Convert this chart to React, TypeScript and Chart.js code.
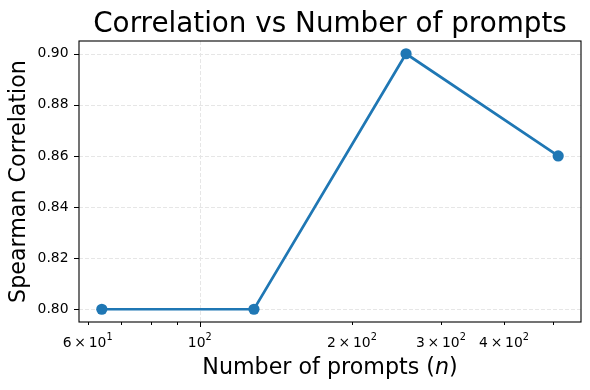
import React, { useEffect, useRef } from "react";
import { Chart, registerables } from "chart.js";

Chart.register(...registerables);

const promptCounts = [64, 128, 256, 512];
const spearman = [0.8, 0.8, 0.9, 0.86];
const yTicks = [0.8, 0.82, 0.84, 0.86, 0.88, 0.9];
const xTicks = [60, 70, 80, 90, 100, 200, 300, 400, 500];
// [mantissa, base, exponent] for labelled x ticks
const xTickLabels: Record<number, [string, string, string]> = {
  60: ["6", "10", "1"],
  100: ["", "10", "2"],
  200: ["2", "10", "2"],
  300: ["3", "10", "2"],
  400: ["4", "10", "2"],
};
const xMajor = [100];

const FONT = "'DejaVu Sans', sans-serif";
const BLUE = "#1f77b4";
const GRID = "#e6e6e6";
const TICK_SIZE = 13.9;

const decorPlugin = {
  id: "decor",
  beforeDatasetsDraw(chart: any) {
    const { ctx, chartArea } = chart;
    const xs = chart.scales.x;
    const ys = chart.scales.y;
    ctx.save();
    ctx.strokeStyle = GRID;
    ctx.lineWidth = 1;
    ctx.setLineDash([4, 2]);
    for (const v of xMajor) {
      const px = Math.round(xs.getPixelForValue(v)) + 0.5;
      ctx.beginPath();
      ctx.moveTo(px, chartArea.top);
      ctx.lineTo(px, chartArea.bottom);
      ctx.stroke();
    }
    for (const v of yTicks) {
      const py = Math.round(ys.getPixelForValue(v)) + 0.5;
      ctx.beginPath();
      ctx.moveTo(chartArea.left, py);
      ctx.lineTo(chartArea.right, py);
      ctx.stroke();
    }
    ctx.restore();
  },
  afterDraw(chart: any) {
    const { ctx, chartArea } = chart;
    const xs = chart.scales.x;
    const ys = chart.scales.y;
    ctx.save();
    ctx.setLineDash([]);
    ctx.strokeStyle = "#000";
    ctx.lineWidth = 1.1;
    ctx.strokeRect(
      chartArea.left,
      chartArea.top,
      chartArea.right - chartArea.left,
      chartArea.bottom - chartArea.top
    );
    ctx.lineWidth = 1;
    for (const v of xTicks) {
      const px = Math.round(xs.getPixelForValue(v)) + 0.5;
      const len = xMajor.includes(v) ? 5 : 3;
      ctx.beginPath();
      ctx.moveTo(px, chartArea.bottom);
      ctx.lineTo(px, chartArea.bottom + len);
      ctx.stroke();
    }
    for (const v of yTicks) {
      const py = Math.round(ys.getPixelForValue(v)) + 0.5;
      ctx.beginPath();
      ctx.moveTo(chartArea.left, py);
      ctx.lineTo(chartArea.left - 5, py);
      ctx.stroke();
    }
    ctx.fillStyle = "#000";
    ctx.textBaseline = "alphabetic";
    ctx.textAlign = "left";
    // x tick labels (mathtext style)
    const base = `${TICK_SIZE}px ${FONT}`;
    const sup = `${TICK_SIZE * 0.7}px ${FONT}`;
    const gap = TICK_SIZE * 0.2;
    const baseY = 347;
    for (const v of xTicks) {
      const lab = xTickLabels[v];
      if (!lab) continue;
      const [m, b, e] = lab;
      ctx.font = base;
      const wm = m ? ctx.measureText(m).width : 0;
      const wx = m ? ctx.measureText("×").width : 0;
      const wb = ctx.measureText(b).width;
      ctx.font = sup;
      const we = ctx.measureText(e).width;
      const total = m ? wm + gap + wx + gap + wb + we : wb + we;
      let x = xs.getPixelForValue(v) - total / 2;
      ctx.font = base;
      if (m) {
        ctx.fillText(m, x, baseY);
        x += wm + gap;
        ctx.fillText("×", x, baseY);
        x += wx + gap;
      }
      ctx.fillText(b, x, baseY);
      x += wb;
      ctx.font = sup;
      ctx.fillText(e, x, baseY - 7);
    }
    // title
    ctx.font = `27.8px ${FONT}`;
    ctx.textAlign = "center";
    const cx = (chartArea.left + chartArea.right) / 2;
    ctx.fillText("Correlation vs Number of prompts", cx, 31.5);
    // x label
    ctx.font = `22.2px ${FONT}`;
    const part1 = "Number of prompts (";
    const part2 = "n";
    const part3 = ")";
    const w1 = ctx.measureText(part1).width;
    const w3 = ctx.measureText(part3).width;
    ctx.font = `italic 22.2px ${FONT}`;
    const w2 = ctx.measureText(part2).width;
    const total = w1 + w2 + w3;
    let sx = cx - total / 2;
    ctx.textAlign = "left";
    ctx.font = `22.2px ${FONT}`;
    ctx.fillText(part1, sx, 373.5);
    sx += w1;
    ctx.font = `italic 22.2px ${FONT}`;
    ctx.fillText(part2, sx, 373.5);
    sx += w2;
    ctx.font = `22.2px ${FONT}`;
    ctx.fillText(part3, sx, 373.5);
    // y label
    ctx.translate(25, (chartArea.top + chartArea.bottom) / 2);
    ctx.rotate(-Math.PI / 2);
    ctx.textAlign = "center";
    ctx.fillText("Spearman Correlation", 0, 0);
    ctx.restore();
  },
};

export default function App() {
  const ref = useRef<HTMLCanvasElement | null>(null);
  useEffect(() => {
    if (!ref.current) return;
    const logMargin = Math.pow(
      promptCounts[promptCounts.length - 1] / promptCounts[0],
      0.05
    );
    const chart = new Chart(ref.current, {
      type: "line",
      data: {
        datasets: [
          {
            data: promptCounts.map((x, i) => ({ x, y: spearman[i] })),
            borderColor: BLUE,
            backgroundColor: BLUE,
            borderWidth: 2.7,
            pointRadius: 5.6,
            pointHoverRadius: 5.6,
            pointBorderWidth: 0,
            tension: 0,
          },
        ],
      },
      options: {
        animation: false,
        responsive: false,
        maintainAspectRatio: false,
        layout: { padding: { top: 41, right: 9, left: 0, bottom: 0 } },
        plugins: {
          legend: { display: false },
          tooltip: { enabled: false },
          title: { display: false },
        },
        scales: {
          x: {
            type: "logarithmic",
            min: promptCounts[0] / logMargin,
            max: promptCounts[promptCounts.length - 1] * logMargin,
            afterBuildTicks: (s: any) => {
              s.ticks = xTicks.map((v) => ({ value: v }));
            },
            afterFit: (s: any) => {
              s.height = 68;
            },
            grid: { display: false, drawTicks: false },
            border: { display: false },
            ticks: {
              display: false,
              autoSkip: false,
              maxRotation: 0,
            },
          },
          y: {
            type: "linear",
            min: 0.795,
            max: 0.905,
            afterBuildTicks: (s: any) => {
              s.ticks = yTicks.map((v) => ({ value: v }));
            },
            afterFit: (s: any) => {
              s.width = 79;
            },
            grid: { display: false, drawTicks: false },
            border: { display: false },
            ticks: {
              padding: 10.5,
              color: "#000",
              font: { family: FONT, size: TICK_SIZE },
              callback: (v: any) => Number(v).toFixed(2),
            },
          },
        },
      },
      plugins: [decorPlugin],
    });
    return () => chart.destroy();
  }, []);
  return (
    <div style={{ position: "absolute", left: 0, top: 0, width: 590, height: 390, background: "#fff" }}>
      <canvas ref={ref} width={590} height={390} style={{ width: 590, height: 390, display: "block" }} />
    </div>
  );
}
